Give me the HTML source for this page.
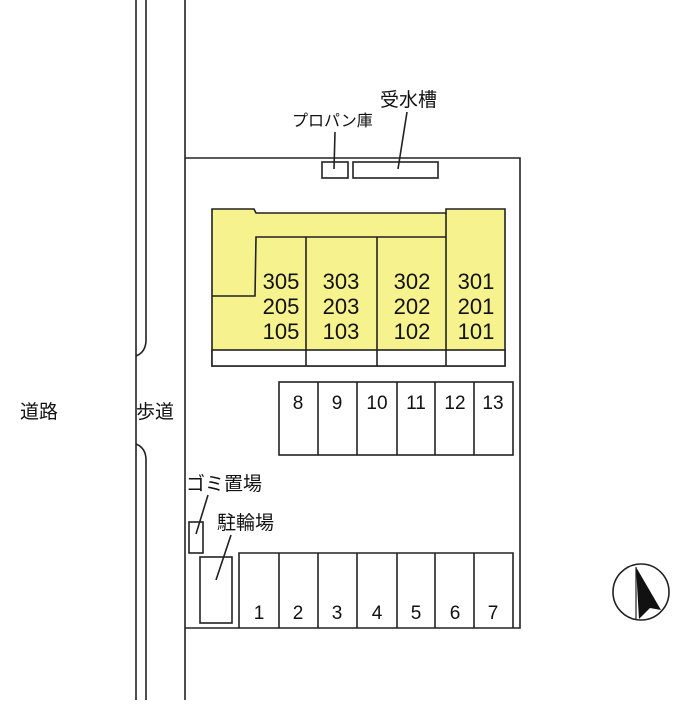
<!DOCTYPE html>
<html><head><meta charset="utf-8"><style>
html,body{margin:0;padding:0;background:#fff;}
svg text{font-family:"Liberation Sans","Noto Sans CJK JP",sans-serif;fill:#111;}
</style></head><body>
<svg width="700" height="700" viewBox="0 0 700 700" xmlns="http://www.w3.org/2000/svg">
<g stroke="#222" stroke-width="1.6" fill="none">
<line x1="136" y1="0" x2="136" y2="700"/>
<path d="M146 0 V340 Q146 352 136 356"/>
<path d="M136 444 Q146 448 146 460 V700"/>
<line x1="185" y1="0" x2="185" y2="700"/>
<polyline points="185,158 520,158 520,628 185,628"/>
<rect x="322" y="162" width="26" height="16"/>
<rect x="353" y="162" width="85" height="16"/>
<line x1="335" y1="132" x2="334" y2="169"/>
<line x1="407" y1="112" x2="398" y2="169"/>
</g>
<path d="M212 209 H254 L256 213 H446 V209 H505 V366 H212 Z" fill="#f6f38e" stroke="#222" stroke-width="1.6"/>
<rect x="212" y="350" width="293" height="16" fill="#fff" stroke="#222" stroke-width="1.6"/>
<g stroke="#222" stroke-width="1.6" fill="none">
<polyline points="212,296 255,296 256,237 446,237"/>
<line x1="446" y1="213" x2="446" y2="366"/>
<line x1="306" y1="237" x2="306" y2="366"/>
<line x1="377" y1="237" x2="377" y2="366"/>
<rect x="279" y="382" width="234" height="73"/>
<line x1="318" y1="382" x2="318" y2="455"/>
<line x1="357" y1="382" x2="357" y2="455"/>
<line x1="397" y1="382" x2="397" y2="455"/>
<line x1="435" y1="382" x2="435" y2="455"/>
<line x1="474" y1="382" x2="474" y2="455"/>
<polyline points="239,628 239,553 513,553 513,628"/>
<line x1="279" y1="553" x2="279" y2="628"/>
<line x1="318" y1="553" x2="318" y2="628"/>
<line x1="357" y1="553" x2="357" y2="628"/>
<line x1="397" y1="553" x2="397" y2="628"/>
<line x1="435" y1="553" x2="435" y2="628"/>
<line x1="474" y1="553" x2="474" y2="628"/>
<rect x="189" y="522" width="14" height="31"/>
<rect x="200" y="557" width="32" height="66"/>
<line x1="208" y1="495" x2="196" y2="534"/>
<line x1="231" y1="535" x2="216" y2="580"/>
<circle cx="641" cy="592" r="28"/>
</g>
<path d="M636 567 L661 610 L650 608 L639 619 Z" fill="#111"/>
<line x1="636" y1="567" x2="636" y2="619" stroke="#222" stroke-width="1.2"/>
<g font-size="22" text-anchor="middle">
<text x="281" y="289">305</text><text x="281" y="314">205</text><text x="281" y="339">105</text>
<text x="341" y="289">303</text><text x="341" y="314">203</text><text x="341" y="339">103</text>
<text x="412" y="289">302</text><text x="412" y="314">202</text><text x="412" y="339">102</text>
<text x="476" y="289">301</text><text x="476" y="314">201</text><text x="476" y="339">101</text>
</g>
<g font-size="19" text-anchor="middle">
<text x="298" y="409">8</text><text x="337" y="409">9</text><text x="377" y="409">10</text>
<text x="416" y="409">11</text><text x="455" y="409">12</text><text x="493" y="409">13</text>
<text x="259" y="619">1</text><text x="298" y="619">2</text><text x="337" y="619">3</text>
<text x="377" y="619">4</text><text x="416" y="619">5</text><text x="455" y="619">6</text><text x="493" y="619">7</text>
</g>
<g font-size="19">
<text x="20" y="418">道路</text>
<text x="136" y="418">歩道</text>
<text x="186" y="490">ゴミ置場</text>
<text x="217" y="529">駐輪場</text>
<text x="292" y="126" font-size="16">プロパン庫</text>
<text x="380" y="106">受水槽</text>
</g>
</svg>
</body></html>
